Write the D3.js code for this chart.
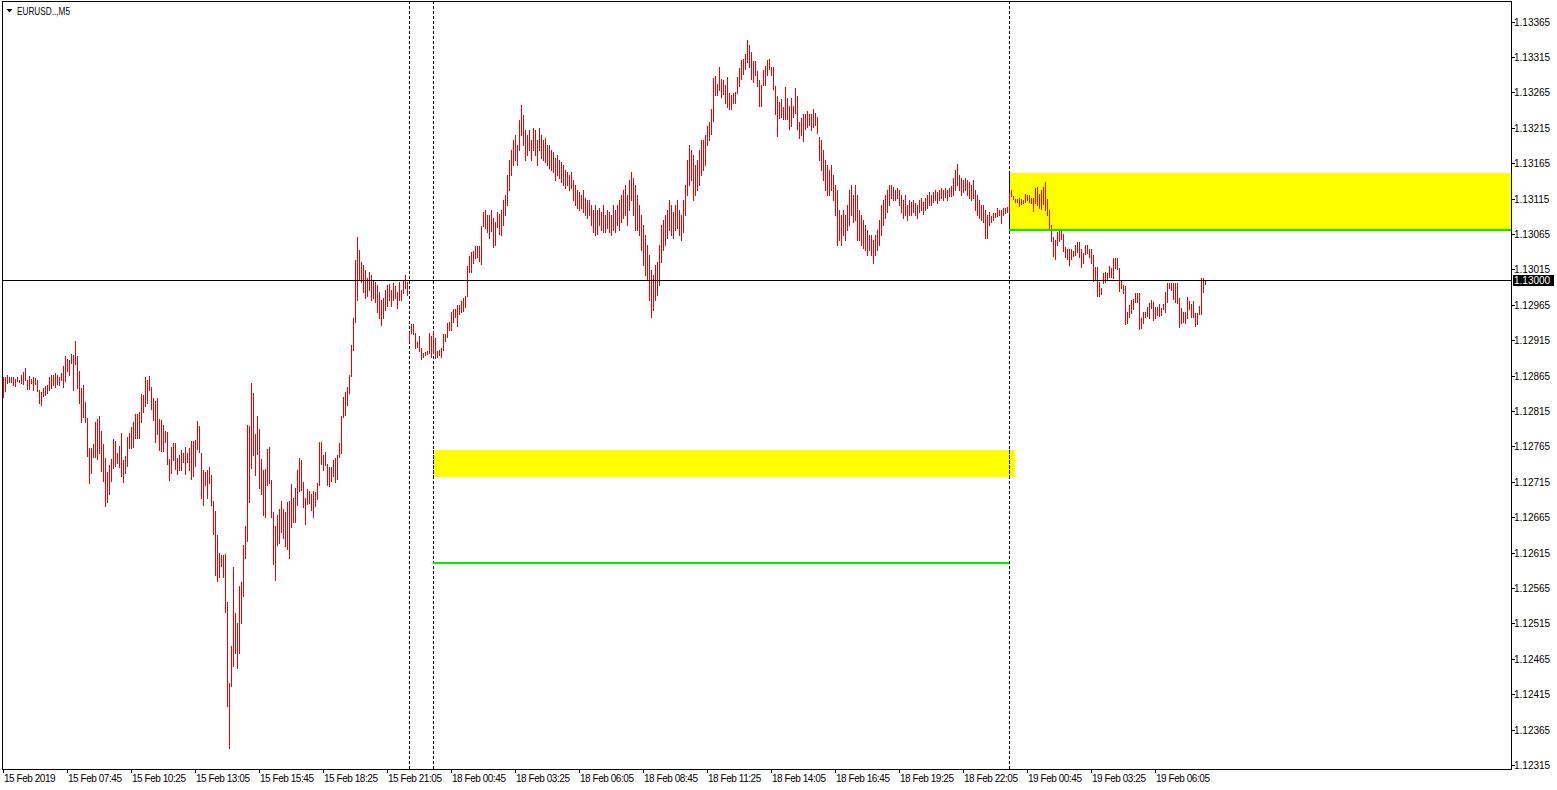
<!DOCTYPE html>
<html><head><meta charset="utf-8">
<script src="https://cdn.jsdelivr.net/npm/d3@7"></script>
<style>
html,body{margin:0;padding:0;background:#fff;overflow:hidden}
svg{display:block}
text{font-family:"Liberation Sans",Arial,sans-serif;fill:#000}
</style></head><body>
<svg id="c" width="1557" height="790"></svg>
<script>
const symbolTitle = "EURUSD..,M5";
const highs = [
1.12863,1.12863,1.12866,1.12863,1.12863,1.12863,1.12860,1.12863,1.12859,1.12866,
1.12870,1.12876,1.12859,1.12864,1.12860,1.12863,1.12862,1.12859,1.12845,1.12842,
1.12847,1.12850,1.12852,1.12863,1.12866,1.12866,1.12869,1.12866,1.12863,1.12869,
1.12879,1.12893,1.12888,1.12887,1.12895,1.12894,1.12914,1.12893,1.12871,1.12847,
1.12852,1.12828,1.12805,1.12763,1.12763,1.12768,1.12799,1.12804,1.12808,1.12787,
1.12768,1.12749,1.12729,1.12739,1.12747,1.12775,1.12773,1.12756,1.12765,1.12784,
1.12746,1.12751,1.12778,1.12784,1.12792,1.12799,1.12811,1.12811,1.12814,1.12839,
1.12838,1.12863,1.12859,1.12864,1.12849,1.12833,1.12829,1.12833,1.12804,1.12802,
1.12795,1.12787,1.12785,1.12747,1.12764,1.12770,1.12770,1.12749,1.12753,1.12760,
1.12756,1.12764,1.12756,1.12763,1.12773,1.12773,1.12774,1.12801,1.12794,1.12756,
1.12732,1.12729,1.12732,1.12736,1.12725,1.12688,1.12674,1.12640,1.12614,1.12612,
1.12612,1.12613,1.12545,1.12431,1.12483,1.12595,1.12530,1.12516,1.12568,1.12573,
1.12626,1.12652,1.12795,1.12794,1.12854,1.12840,1.12783,1.12808,1.12790,1.12747,
1.12732,1.12733,1.12761,1.12764,1.12718,1.12672,1.12652,1.12668,1.12677,1.12688,
1.12677,1.12672,1.12686,1.12688,1.12712,1.12692,1.12706,1.12732,1.12749,1.12746,
1.12715,1.12692,1.12705,1.12702,1.12698,1.12702,1.12700,1.12713,1.12771,1.12771,
1.12753,1.12757,1.12740,1.12736,1.12736,1.12746,1.12749,1.12753,1.12770,1.12808,
1.12835,1.12842,1.12849,1.12866,1.12908,1.12946,1.13028,1.13061,1.13042,1.13025,
1.13021,1.13014,1.13003,1.13011,1.13007,1.13000,1.12997,1.12993,1.12983,1.12972,
1.12975,1.12986,1.12993,1.12994,1.12986,1.12996,1.12992,1.12983,1.12997,1.12986,
1.13000,1.13007,1.12997,1.12927,1.12938,1.12938,1.12925,1.12912,1.12921,1.12904,
1.12897,1.12898,1.12900,1.12925,1.12921,1.12928,1.12918,1.12900,1.12901,1.12904,
1.12924,1.12924,1.12939,1.12941,1.12955,1.12959,1.12959,1.12965,1.12965,1.12970,
1.12975,1.12977,1.13020,1.13034,1.13040,1.13041,1.13048,1.13048,1.13048,1.13076,
1.13096,1.13099,1.13092,1.13092,1.13099,1.13088,1.13082,1.13096,1.13093,1.13099,
1.13113,1.13120,1.13148,1.13170,1.13184,1.13198,1.13205,1.13191,1.13226,1.13247,
1.13233,1.13212,1.13205,1.13212,1.13198,1.13215,1.13212,1.13198,1.13215,1.13205,
1.13198,1.13201,1.13191,1.13191,1.13184,1.13181,1.13172,1.13177,1.13170,1.13167,
1.13162,1.13155,1.13153,1.13148,1.13153,1.13141,1.13134,1.13127,1.13124,1.13120,
1.13127,1.13116,1.13113,1.13113,1.13106,1.13099,1.13106,1.13099,1.13102,1.13096,
1.13106,1.13092,1.13099,1.13096,1.13092,1.13106,1.13099,1.13106,1.13113,1.13120,
1.13127,1.13134,1.13120,1.13141,1.13153,1.13144,1.13134,1.13120,1.13106,1.13092,
1.13078,1.13064,1.13049,1.13035,1.13014,1.13007,1.13021,1.13025,1.13049,1.13078,
1.13085,1.13092,1.13099,1.13113,1.13106,1.13096,1.13106,1.13113,1.13099,1.13092,
1.13113,1.13134,1.13170,1.13191,1.13184,1.13177,1.13162,1.13170,1.13184,1.13198,
1.13198,1.13205,1.13218,1.13223,1.13242,1.13285,1.13288,1.13277,1.13301,1.13284,
1.13282,1.13275,1.13287,1.13264,1.13261,1.13264,1.13266,1.13287,1.13300,1.13311,
1.13312,1.13319,1.13339,1.13332,1.13322,1.13309,1.13309,1.13295,1.13282,1.13275,
1.13297,1.13302,1.13311,1.13312,1.13301,1.13301,1.13274,1.13260,1.13251,1.13256,
1.13244,1.13273,1.13257,1.13246,1.13257,1.13246,1.13271,1.13260,1.13223,1.13229,
1.13234,1.13234,1.13239,1.13234,1.13234,1.13242,1.13236,1.13230,1.13202,1.13198,
1.13184,1.13170,1.13162,1.13155,1.13162,1.13148,1.13134,1.13127,1.13099,1.13092,
1.13099,1.13092,1.13106,1.13127,1.13134,1.13120,1.13134,1.13120,1.13099,1.13092,
1.13085,1.13078,1.13071,1.13064,1.13064,1.13056,1.13064,1.13071,1.13085,1.13106,
1.13113,1.13120,1.13127,1.13134,1.13134,1.13131,1.13127,1.13130,1.13127,1.13120,
1.13113,1.13120,1.13106,1.13113,1.13110,1.13113,1.13109,1.13106,1.13113,1.13116,
1.13110,1.13116,1.13120,1.13124,1.13120,1.13124,1.13127,1.13124,1.13127,1.13130,
1.13127,1.13130,1.13127,1.13130,1.13133,1.13144,1.13155,1.13164,1.13148,1.13144,
1.13141,1.13144,1.13141,1.13138,1.13134,1.13141,1.13127,1.13120,1.13113,1.13106,
1.13106,1.13099,1.13092,1.13096,1.13090,1.13095,1.13095,1.13102,1.13099,1.13099,
1.13102,1.13102,1.13103,1.13123,1.13127,1.13119,1.13114,1.13114,1.13116,1.13114,
1.13113,1.13121,1.13120,1.13120,1.13116,1.13116,1.13130,1.13131,1.13121,1.13127,
1.13131,1.13138,1.13114,1.13099,1.13078,1.13061,1.13056,1.13068,1.13071,1.13071,
1.13065,1.13047,1.13044,1.13044,1.13044,1.13041,1.13049,1.13054,1.13054,1.13044,
1.13038,1.13049,1.13049,1.13044,1.13044,1.13035,1.13018,1.13018,1.12997,1.12989,
1.13010,1.13011,1.13010,1.13020,1.13017,1.13031,1.13031,1.13031,1.13017,1.12999,
1.12993,1.12992,1.12955,1.12965,1.12972,1.12973,1.12982,1.12982,1.12982,1.12946,
1.12955,1.12955,1.12962,1.12968,1.12972,1.12969,1.12962,1.12962,1.12966,1.12960,
1.12966,1.12983,1.12996,1.12996,1.12996,1.12996,1.12996,1.12996,1.12975,1.12960,
1.12955,1.12955,1.12976,1.12970,1.12966,1.12970,1.12953,1.12953,1.12963,1.13003,
1.13003,1.13000
];
const lows = [
1.12835,1.12843,1.12854,1.12856,1.12856,1.12852,1.12850,1.12857,1.12856,1.12854,
1.12853,1.12859,1.12846,1.12846,1.12854,1.12845,1.12853,1.12843,1.12826,1.12823,
1.12836,1.12838,1.12840,1.12845,1.12847,1.12852,1.12849,1.12853,1.12852,1.12859,
1.12849,1.12857,1.12871,1.12866,1.12883,1.12845,1.12881,1.12847,1.12826,1.12799,
1.12806,1.12799,1.12751,1.12713,1.12727,1.12750,1.12750,1.12747,1.12756,1.12730,
1.12716,1.12681,1.12686,1.12698,1.12716,1.12734,1.12737,1.12742,1.12736,1.12723,
1.12715,1.12727,1.12737,1.12763,1.12763,1.12764,1.12777,1.12777,1.12777,1.12799,
1.12814,1.12822,1.12826,1.12845,1.12818,1.12802,1.12771,1.12783,1.12760,1.12758,
1.12758,1.12771,1.12740,1.12717,1.12727,1.12746,1.12733,1.12726,1.12732,1.12732,
1.12743,1.12726,1.12743,1.12732,1.12719,1.12723,1.12737,1.12761,1.12757,1.12692,
1.12682,1.12710,1.12692,1.12713,1.12682,1.12641,1.12583,1.12575,1.12580,1.12596,
1.12580,1.12531,1.12398,1.12339,1.12426,1.12455,1.12473,1.12452,1.12473,1.12516,
1.12554,1.12607,1.12631,1.12686,1.12734,1.12753,1.12725,1.12754,1.12706,1.12698,
1.12668,1.12665,1.12710,1.12713,1.12665,1.12599,1.12576,1.12626,1.12628,1.12644,
1.12636,1.12624,1.12620,1.12607,1.12651,1.12658,1.12658,1.12682,1.12702,1.12703,
1.12679,1.12655,1.12684,1.12685,1.12675,1.12665,1.12681,1.12691,1.12710,1.12740,
1.12732,1.12739,1.12710,1.12709,1.12716,1.12723,1.12715,1.12719,1.12750,1.12756,
1.12806,1.12809,1.12823,1.12840,1.12864,1.12901,1.12941,1.12972,1.13000,1.12997,
1.12983,1.12975,1.12977,1.12986,1.12972,1.12975,1.12969,1.12955,1.12946,1.12936,
1.12946,1.12958,1.12963,1.12972,1.12963,1.12972,1.12975,1.12960,1.12972,1.12972,
1.12982,1.12989,1.12979,1.12912,1.12925,1.12924,1.12904,1.12905,1.12900,1.12888,
1.12891,1.12894,1.12895,1.12897,1.12891,1.12897,1.12890,1.12891,1.12894,1.12891,
1.12901,1.12914,1.12919,1.12929,1.12929,1.12941,1.12948,1.12935,1.12952,1.12955,
1.12956,1.12962,1.12977,1.13011,1.13011,1.13024,1.13031,1.13032,1.13027,1.13023,
1.13076,1.13073,1.13068,1.13059,1.13069,1.13047,1.13049,1.13075,1.13065,1.13064,
1.13078,1.13092,1.13106,1.13127,1.13148,1.13162,1.13170,1.13162,1.13184,1.13205,
1.13191,1.13170,1.13177,1.13184,1.13170,1.13184,1.13177,1.13162,1.13184,1.13172,
1.13170,1.13167,1.13162,1.13158,1.13155,1.13153,1.13141,1.13148,1.13144,1.13138,
1.13134,1.13130,1.13134,1.13127,1.13130,1.13113,1.13106,1.13102,1.13099,1.13102,
1.13096,1.13092,1.13088,1.13092,1.13078,1.13068,1.13064,1.13065,1.13078,1.13071,
1.13068,1.13068,1.13073,1.13068,1.13064,1.13071,1.13068,1.13078,1.13071,1.13082,
1.13088,1.13092,1.13078,1.13099,1.13113,1.13092,1.13071,1.13071,1.13064,1.13042,
1.13021,1.13007,1.13000,1.12972,1.12948,1.12958,1.12972,1.12979,1.12993,1.13025,
1.13042,1.13049,1.13059,1.13071,1.13064,1.13059,1.13071,1.13073,1.13064,1.13056,
1.13068,1.13092,1.13120,1.13134,1.13141,1.13113,1.13120,1.13127,1.13134,1.13148,
1.13155,1.13162,1.13191,1.13198,1.13206,1.13225,1.13261,1.13261,1.13268,1.13258,
1.13263,1.13250,1.13244,1.13242,1.13242,1.13250,1.13250,1.13264,1.13274,1.13284,
1.13291,1.13298,1.13308,1.13301,1.13284,1.13280,1.13290,1.13274,1.13246,1.13246,
1.13275,1.13275,1.13290,1.13298,1.13290,1.13270,1.13234,1.13203,1.13229,1.13230,
1.13227,1.13227,1.13227,1.13213,1.13218,1.13230,1.13236,1.13213,1.13201,1.13205,
1.13196,1.13213,1.13216,1.13219,1.13212,1.13216,1.13219,1.13208,1.13170,1.13155,
1.13141,1.13127,1.13120,1.13120,1.13127,1.13113,1.13092,1.13049,1.13056,1.13049,
1.13064,1.13056,1.13071,1.13078,1.13092,1.13082,1.13085,1.13056,1.13056,1.13049,
1.13045,1.13042,1.13035,1.13042,1.13035,1.13024,1.13035,1.13042,1.13049,1.13064,
1.13078,1.13088,1.13096,1.13106,1.13116,1.13113,1.13113,1.13116,1.13106,1.13096,
1.13088,1.13092,1.13085,1.13092,1.13092,1.13096,1.13092,1.13088,1.13096,1.13099,
1.13093,1.13099,1.13102,1.13106,1.13106,1.13110,1.13113,1.13109,1.13113,1.13116,
1.13113,1.13117,1.13113,1.13119,1.13119,1.13120,1.13127,1.13134,1.13127,1.13120,
1.13124,1.13127,1.13120,1.13116,1.13113,1.13116,1.13099,1.13092,1.13088,1.13085,
1.13082,1.13059,1.13059,1.13078,1.13082,1.13085,1.13089,1.13090,1.13092,1.13081,
1.13092,1.13095,1.13096,1.13095,1.13119,1.13114,1.13110,1.13110,1.13105,1.13107,
1.13109,1.13110,1.13113,1.13110,1.13109,1.13097,1.13109,1.13106,1.13102,1.13100,
1.13107,1.13099,1.13092,1.13071,1.13055,1.13034,1.13030,1.13049,1.13055,1.13058,
1.13041,1.13032,1.13030,1.13021,1.13030,1.13034,1.13035,1.13040,1.13032,1.13018,
1.13024,1.13037,1.13038,1.13032,1.13024,1.12999,1.13000,1.12977,1.12977,1.12980,
1.12996,1.12997,1.13001,1.13004,1.13004,1.13003,1.13017,1.13016,1.12984,1.12989,
1.12982,1.12938,1.12939,1.12948,1.12953,1.12959,1.12969,1.12969,1.12931,1.12932,
1.12939,1.12948,1.12949,1.12946,1.12960,1.12943,1.12946,1.12951,1.12949,1.12951,
1.12959,1.12955,1.12969,1.12989,1.12986,1.12973,1.12969,1.12968,1.12934,1.12939,
1.12941,1.12939,1.12946,1.12959,1.12948,1.12948,1.12935,1.12938,1.12952,1.12952,
1.12983,1.12994
];
const priceTicks = [1.12315,1.12365,1.12415,1.12465,1.12515,1.12565,1.12615,1.12665,1.12715,1.12765,1.12815,
  1.12865,1.12915,1.12965,1.13015,1.13065,1.13115,1.13165,1.13215,1.13265,1.13315,1.13365];
const timeLabels = ["15 Feb 2019","15 Feb 07:45","15 Feb 10:25","15 Feb 13:05","15 Feb 15:45","15 Feb 18:25",
  "15 Feb 21:05","18 Feb 00:45","18 Feb 03:25","18 Feb 06:05","18 Feb 08:45","18 Feb 11:25","18 Feb 14:05",
  "18 Feb 16:45","18 Feb 19:25","18 Feb 22:05","19 Feb 00:45","19 Feb 03:25","19 Feb 06:05"];
const timeLabelBars = [0,32,64,96,128,160,192,224,256,288,320,352,384,416,448,480,512,544,576];
const separatorBars = [203,215,503];
const currentPrice = 1.13000;
const zoneStart = [503,215];
const zoneEnd = [null,506];
const zoneTop = [1.13151,1.12760];
const zoneBottom = [1.13072,1.12722];
const levelStart = [503,215];
const levelEnd = [null,503];
const levelPrice = [1.13071,1.12600];

const svg = d3.select("#c");
const L = 2, T = 1, R = 1511, B = 769;
const x = d3.scaleLinear().domain([0,754]).range([3,1511]);
const y = d3.scaleLinear().domain([1.12315,1.13365]).range([765,21.7]);
const px = i => Math.round(x(i));
const py = p => Math.round(y(p));

svg.append("defs").append("clipPath").attr("id","plot")
  .append("rect").attr("x",L+1).attr("y",T+1).attr("width",R-L-1).attr("height",B-T-1);
const plot = svg.append("g").attr("clip-path","url(#plot)");

// zones (background)
zoneTop.forEach((t,k)=>{
  const x0 = px(zoneStart[k]);
  const x1 = zoneEnd[k]==null ? R : px(zoneEnd[k]);
  plot.append("rect").attr("x",x0).attr("y",py(t)).attr("width",x1-x0)
    .attr("height",py(zoneBottom[k])-py(t)).attr("fill","#ffff00");
});

// period separators
separatorBars.forEach(b=>{
  const xx = px(b)+0.5;
  plot.append("line").attr("x1",xx).attr("x2",xx).attr("y1",T).attr("y2",B)
    .attr("stroke","#000").attr("stroke-width",1).attr("stroke-dasharray","3,2");
  zoneTop.forEach((t,k)=>{
    const x0 = px(zoneStart[k]);
    const x1 = zoneEnd[k]==null ? R : px(zoneEnd[k]);
    if (px(b)>=x0 && px(b)<x1) {
      plot.append("line").attr("x1",xx).attr("x2",xx).attr("y1",py(t)).attr("y2",py(zoneBottom[k]))
        .attr("stroke","#0000ff").attr("stroke-width",1).attr("stroke-dasharray","3,2");
    }
  });
});

// bars
plot.append("g").selectAll("rect").data(highs).join("rect")
  .attr("x",(d,i)=>px(i))
  .attr("y",d=>py(d))
  .attr("width",1)
  .attr("height",(d,i)=>Math.max(1,py(lows[i])-py(d)+1))
  .attr("fill","#ee0000")
  .attr("shape-rendering","crispEdges");

// levels
levelPrice.forEach((p,k)=>{
  const x0 = px(levelStart[k]);
  const x1 = levelEnd[k]==null ? R : px(levelEnd[k]);
  plot.append("rect").attr("x",x0).attr("y",py(p)-1).attr("width",x1-x0).attr("height",2)
    .attr("fill","#00ee00");
});

// current price line
plot.append("rect").attr("x",L).attr("y",py(currentPrice)).attr("width",R-L).attr("height",1).attr("fill","#000");

// frame
const fr = svg.append("g").attr("stroke","#000").attr("stroke-width",1).attr("shape-rendering","crispEdges");
fr.append("line").attr("x1",L+0.5).attr("x2",L+0.5).attr("y1",T).attr("y2",B+0.5);
fr.append("line").attr("x1",L).attr("x2",R+0.5).attr("y1",T+0.5).attr("y2",T+0.5);
fr.append("line").attr("x1",R+0.5).attr("x2",R+0.5).attr("y1",T).attr("y2",B+1);
fr.append("line").attr("x1",L).attr("x2",R+1).attr("y1",B+0.5).attr("y2",B+0.5);

// price axis
const pa = svg.append("g");
priceTicks.forEach(p=>{
  const yy = py(p);
  pa.append("line").attr("x1",R+1).attr("x2",R+4).attr("y1",yy+0.5).attr("y2",yy+0.5)
    .attr("stroke","#000").attr("shape-rendering","crispEdges");
  pa.append("text").attr("x",R+3).attr("y",yy+4).attr("font-size","10px").text(p.toFixed(5));
});
// current price label
const cy = py(currentPrice);
pa.append("rect").attr("x",R+2).attr("y",cy-5).attr("width",41).attr("height",11).attr("fill","#000");
pa.append("text").attr("x",R+3).attr("y",cy+4).attr("font-size","10px").style("fill","#fff").text(currentPrice.toFixed(5));

// time axis
const ta = svg.append("g");
timeLabelBars.forEach((b,k)=>{
  const xx = px(b);
  ta.append("line").attr("x1",xx+0.5).attr("x2",xx+0.5).attr("y1",B+1).attr("y2",B+4)
    .attr("stroke","#000").attr("shape-rendering","crispEdges");
  ta.append("text").attr("x",xx+1).attr("y",782).attr("font-size","10px")
    .attr("letter-spacing","-0.45px").text(timeLabels[k]);
});

// title
svg.append("path").attr("d","M6.5,9 L12.5,9 L9.5,12.5 Z").attr("fill","#000");
svg.append("text").attr("x",17).attr("y",15).attr("font-size","10px")
  .attr("textLength",53).attr("lengthAdjust","spacingAndGlyphs").text(symbolTitle);
</script>
</body></html>
